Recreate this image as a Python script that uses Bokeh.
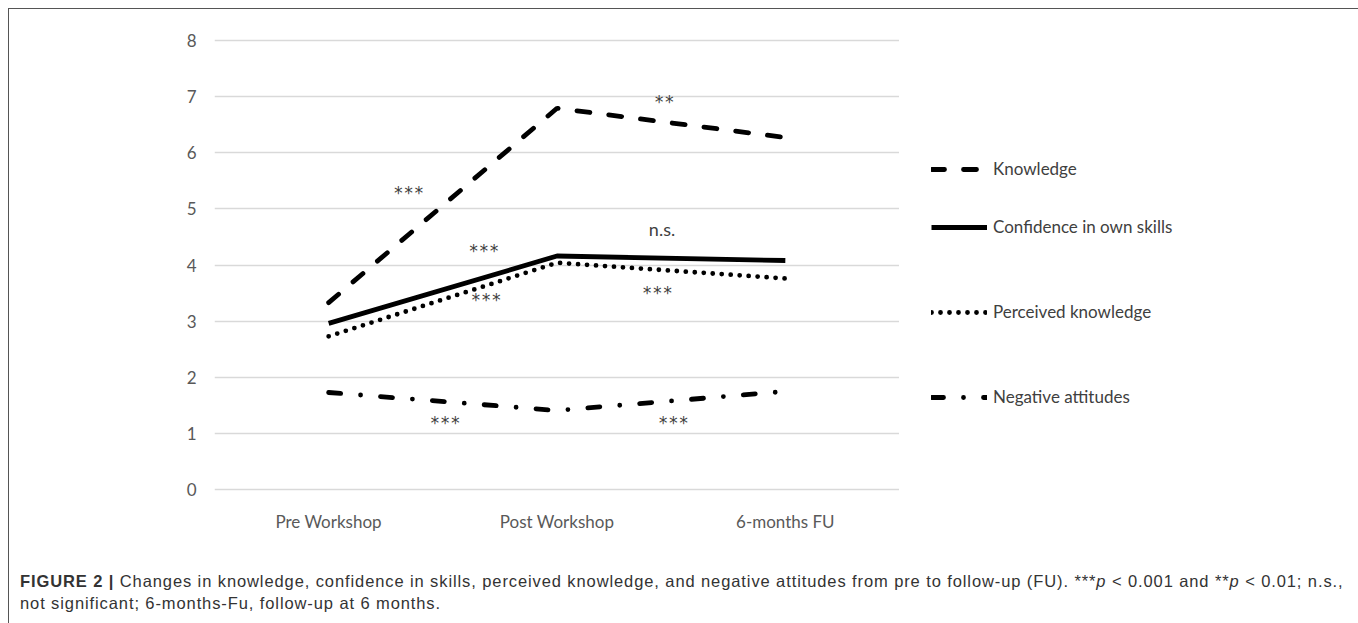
from bokeh.plotting import figure
from bokeh.models import Range1d, FixedTicker, Legend, LegendItem, Div, ColumnDataSource
from bokeh.layouts import column, row
from bokeh.embed import file_html
from bokeh.resources import INLINE
from bokeh.core.properties import value

# ---- data ----
categories = ["Pre Workshop", "Post Workshop", "6-months FU"]
knowledge = [3.33, 6.79, 6.27]
confidence = [2.96, 4.16, 4.08]
perceived = [2.73, 4.04, 3.76]
negative = [1.73, 1.41, 1.75]
y_ticks = [0, 1, 2, 3, 4, 5, 6, 7, 8]

series_names = ["Knowledge", "Confidence in own skills", "Perceived knowledge", "Negative attitudes"]

star_labels = ["***", "**", "***", "***", "***", "***", "***"]
star_x = [0.85, 1.97, 1.18, 1.19, 1.94, 1.01, 2.01]
star_y = [5.28, 6.90, 4.25, 3.37, 3.50, 1.18, 1.18]
ns_labels = ["n.s."]
ns_x = [1.96]
ns_y = [4.64]

xpos = [i + 0.5 for i in range(len(categories))]
series = [knowledge, confidence, perceived, negative]

FONT = "Lato"
TXT = "#404040"

p = figure(
    frame_width=685, frame_height=455,
    min_border_left=205, min_border_right=0,
    min_border_top=28, min_border_bottom=48,
    x_range=Range1d(0, len(categories)), y_range=Range1d(-0.05, 8.05),
    output_backend="svg", toolbar_location=None,
)
p.outline_line_color = None
p.border_fill_color = "white"

p.xgrid.grid_line_color = None
p.ygrid.grid_line_color = "#d9d9d9"
p.ygrid.grid_line_width = 1.3

p.yaxis.ticker = FixedTicker(ticks=y_ticks)
p.xaxis.ticker = FixedTicker(ticks=xpos)
p.xaxis.major_label_overrides = {x: c for x, c in zip(xpos, categories)}
for ax in (p.xaxis, p.yaxis):
    ax.axis_line_color = None
    ax.major_tick_line_color = None
    ax.minor_tick_line_color = None
    ax.major_label_text_font = FONT
    ax.major_label_text_font_size = "17px"
    ax.major_label_text_color = "#595959"
p.yaxis.major_label_standoff = 12
p.xaxis.major_label_standoff = 12

styles = [
    dict(line_color="black", line_width=4.8, line_dash="13 19", line_cap="round"),
    dict(line_color="black", line_width=4.8),
    dict(line_color="black", line_width=4.8, line_dash="0 9", line_cap="round"),
    dict(line_color="black", line_width=4.8, line_dash="12 20 0 20", line_cap="round"),
]
for ys, st in zip(series, styles):
    p.line(xpos, ys, **st)

p.text("x", "y", text="t", source=ColumnDataSource(dict(x=star_x, y=star_y, t=star_labels)),
       text_align="center", text_baseline="middle",
       text_font=value("DejaVu Sans Mono"), text_font_size="17px", text_color=TXT)
p.text("x", "y", text="t", source=ColumnDataSource(dict(x=ns_x, y=ns_y, t=ns_labels)),
       text_align="center", text_baseline="middle",
       text_font=value(FONT), text_font_size="18px", text_color=TXT)

# ---- legend panel (separate figure so the grid stops at the plot edge) ----
# its ranges lie outside the data, so the series drawn here only feed the legend glyphs
pl = figure(width=450, height=531, min_border=0, x_range=Range1d(0, 1), y_range=Range1d(-2, -1),
            x_axis_location=None, y_axis_location=None,
            output_backend="svg", toolbar_location=None)
pl.grid.grid_line_color = None
pl.outline_line_color = None
legend_y = [313, 255, 170, 85]
for name, ys, st, vy in zip(series_names, series, styles, legend_y):
    r = pl.line(xpos, ys, **st)
    lg = Legend(items=[LegendItem(label=name, renderers=[r])], location=(32, vy),
                glyph_width=56, glyph_height=20, label_height=20, label_standoff=6,
                padding=0, margin=0, spacing=0, border_line_color=None,
                background_fill_alpha=0, label_text_font=FONT, label_text_baseline="middle",
                label_text_font_size="17px", label_text_color=TXT)
    pl.add_layout(lg)

caption = Div(
    text=('<b>FIGURE 2 |</b> Changes in knowledge, confidence in skills, perceived knowledge, '
          'and negative attitudes from pre to follow-up (FU). ***<i>p</i> &lt; 0.001 and '
          '**<i>p</i> &lt; 0.01; n.s.,<br>not significant; 6-months-Fu, follow-up at 6 months.'),
    width=1340, height=76,
    styles={"font-family": "Liberation Sans", "font-size": "16.5px", "color": "#333333",
            "letter-spacing": "0.9px",
            "line-height": "22px", "padding-left": "6px", "padding-top": "25px",
            "white-space": "nowrap", "box-sizing": "border-box"},
)

layout = column(row(p, pl, spacing=0), caption, spacing=0,
                styles={"border-left": "1.5px solid #555555", "border-top": "1.5px solid #555555",
                        "border-right": "1.5px solid #555555",
                        "margin-left": "8px", "margin-top": "8px",
                        "background-color": "white"})

open("out.html", "w").write(file_html(layout, INLINE))
